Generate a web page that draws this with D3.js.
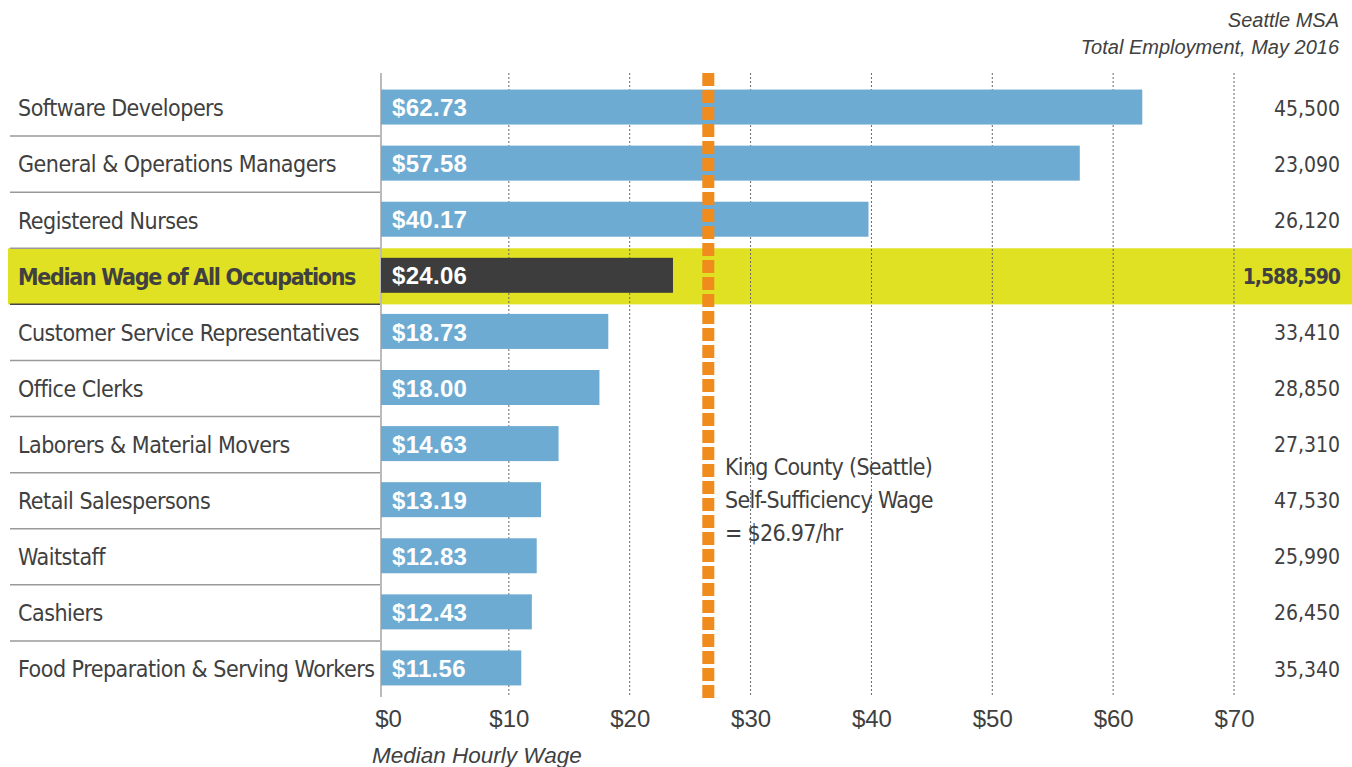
<!DOCTYPE html>
<html>
<head>
<meta charset="utf-8">
<script src="https://cdn.jsdelivr.net/npm/d3@7"></script>
<style>
  body { margin: 0; background: #fff; }
  .cond { font-family: "DejaVu Sans Condensed", "Liberation Sans Narrow", sans-serif; }
  .plain { font-family: "Liberation Sans", "DejaVu Sans", sans-serif; }
</style>
</head>
<body>
<div id="chart"></div>
<script>
// Chart data
var occupations = [
    "Software Developers",
    "General & Operations Managers",
    "Registered Nurses",
    "Median Wage of All Occupations",
    "Customer Service Representatives",
    "Office Clerks",
    "Laborers & Material Movers",
    "Retail Salespersons",
    "Waitstaff",
    "Cashiers",
    "Food Preparation & Serving Workers"
];
var wages = [62.73, 57.58, 40.17, 24.06, 18.73, 18.00, 14.63, 13.19, 12.83, 12.43, 11.56];
var employment = ["45,500", "23,090", "26,120", "1,588,590", "33,410", "28,850", "27,310", "47,530", "25,990", "26,450", "35,340"];
var highlightName = "Median Wage of All Occupations";
var selfSufficiencyWage = 26.97;
var xTicks = [0, 10, 20, 30, 40, 50, 60, 70];

var data = occupations.map(function(d, i) {
    return { name: d, wage: wages[i], emp: employment[i] };
});

// SVG area
var svgWidth = 1352;
var svgHeight = 767;

var svg = d3.select("#chart")
    .append("svg")
    .attr("width", svgWidth)
    .attr("height", svgHeight);

var plotTop = 80;
var plotBottom = 697;

// Scale for the bars and the wage line
var xScale = d3.scaleLinear()
    .domain([0, 70])
    .range([381, 1230.5]);

// the gridlines / tick labels in the original sit on a slightly shifted scale
var gridScale = d3.scaleLinear()
    .domain([0, 70])
    .range([388, 1234]);

var yScale = d3.scaleBand()
    .domain(occupations)
    .range([plotTop, plotBottom])
    .paddingInner(0)
    .paddingOuter(0);

var textColor = "#404040";

// Highlight band
svg.append("rect")
    .attr("x", 8)
    .attr("y", yScale(highlightName))
    .attr("width", svgWidth - 8)
    .attr("height", yScale.bandwidth())
    .attr("fill", "#e0e122");

// Row separators on the left
svg.selectAll(".sep")
    .data(occupations.slice(1))
    .enter()
    .append("line")
    .attr("x1", 10)
    .attr("x2", 381)
    .attr("y1", d => yScale(d))
    .attr("y2", d => yScale(d))
    .attr("stroke", (d, i) => occupations[i] === highlightName ? "#444" : "#999")
    .attr("stroke-width", 1.5);

// Dotted gridlines
svg.selectAll(".grid")
    .data(xTicks.slice(1))
    .enter()
    .append("line")
    .attr("x1", d => gridScale(d))
    .attr("x2", d => gridScale(d))
    .attr("y1", 73)
    .attr("y2", plotBottom)
    .attr("stroke", "#666")
    .attr("stroke-width", 1)
    .attr("stroke-dasharray", "2,2");

// Axis line
svg.append("line")
    .attr("x1", xScale(0))
    .attr("x2", xScale(0))
    .attr("y1", 73)
    .attr("y2", plotBottom)
    .attr("stroke", "#bbb")
    .attr("stroke-width", 2);

// Bars
var barH = 35;
svg.selectAll(".bar")
    .data(data)
    .enter()
    .append("rect")
    .attr("x", xScale(0))
    .attr("y", d => yScale(d.name) + (yScale.bandwidth() - barH) / 2 - 1)
    .attr("width", d => xScale(d.wage) - xScale(0))
    .attr("height", barH)
    .attr("fill", d => d.name === highlightName ? "#3d3d3d" : "#6eabd2");

// Bar value labels
svg.selectAll(".val")
    .data(data)
    .enter()
    .append("text")
    .attr("class", "plain")
    .attr("x", xScale(0) + 11)
    .attr("y", d => yScale(d.name) + yScale.bandwidth() / 2)
    .attr("dy", "0.34em")
    .attr("font-size", 24)
    .attr("font-weight", "bold")
    .attr("letter-spacing", 0.3)
    .attr("fill", "#fff")
    .text(d => "$" + d.wage.toFixed(2));

// Occupation labels
svg.selectAll(".lab")
    .data(data)
    .enter()
    .append("text")
    .attr("class", "cond")
    .attr("x", 18)
    .attr("y", d => yScale(d.name) + yScale.bandwidth() / 2)
    .attr("dy", "0.36em")
    .attr("font-size", 23)
    .attr("letter-spacing", d => d.name === highlightName ? -1.3 : -0.5)
    .attr("font-weight", d => d.name === highlightName ? "bold" : "normal")
    .attr("fill", textColor)
    .text(d => d.name);

// Employment numbers
svg.selectAll(".emp")
    .data(data)
    .enter()
    .append("text")
    .attr("class", "cond")
    .attr("x", 1340)
    .attr("y", d => yScale(d.name) + yScale.bandwidth() / 2)
    .attr("dy", "0.36em")
    .attr("text-anchor", "end")
    .attr("font-size", 21)
    .attr("letter-spacing", d => d.name === highlightName ? -1 : 0)
    .attr("font-weight", d => d.name === highlightName ? "bold" : "normal")
    .attr("fill", textColor)
    .text(d => d.emp);

// Self-sufficiency dashed line
svg.append("line")
    .attr("x1", xScale(selfSufficiencyWage))
    .attr("x2", xScale(selfSufficiencyWage))
    .attr("y1", 73)
    .attr("y2", plotBottom + 2)
    .attr("stroke", "#f08c1e")
    .attr("stroke-width", 12)
    .attr("stroke-dasharray", "13,4");

// Annotation
var note = svg.append("text")
    .attr("class", "cond")
    .attr("x", 725)
    .attr("y", 467)
    .attr("font-size", 23)
    .attr("letter-spacing", -0.7)
    .attr("fill", textColor);
["King County (Seattle)", "Self-Sufficiency Wage", "= $" + selfSufficiencyWage + "/hr"].forEach(function(t, i) {
    note.append("tspan")
        .attr("x", 725)
        .attr("dy", i === 0 ? "0.36em" : "1.42em")
        .text(t);
});

// X axis
var bottomAxis = d3.axisBottom(gridScale)
    .tickValues(xTicks)
    .tickFormat(d => "$" + d)
    .tickSize(0)
    .tickPadding(0);

var xAxis = svg.append("g")
    .attr("transform", `translate(0, ${plotBottom})`)
    .call(bottomAxis);
xAxis.select(".domain").remove();
xAxis.selectAll("text")
    .attr("class", "plain")
    .attr("y", 21)
    .attr("dy", "0.36em")
    .attr("font-size", 24)
    .attr("fill", textColor);

// Axis title
svg.append("text")
    .attr("class", "plain")
    .attr("x", 372)
    .attr("y", 755)
    .attr("dy", "0.36em")
    .attr("font-size", 22.5)
    .attr("font-style", "italic")
    .attr("fill", textColor)
    .text("Median Hourly Wage");

// Header at right
svg.append("text")
    .attr("class", "plain")
    .attr("x", 1339)
    .attr("y", 20)
    .attr("dy", "0.36em")
    .attr("text-anchor", "end")
    .attr("font-size", 20)
    .attr("font-style", "italic")
    .attr("fill", textColor)
    .text("Seattle MSA");
svg.append("text")
    .attr("class", "plain")
    .attr("x", 1339)
    .attr("y", 47)
    .attr("dy", "0.36em")
    .attr("text-anchor", "end")
    .attr("font-size", 20)
    .attr("font-style", "italic")
    .attr("fill", textColor)
    .text("Total Employment, May 2016");
</script>
</body>
</html>
